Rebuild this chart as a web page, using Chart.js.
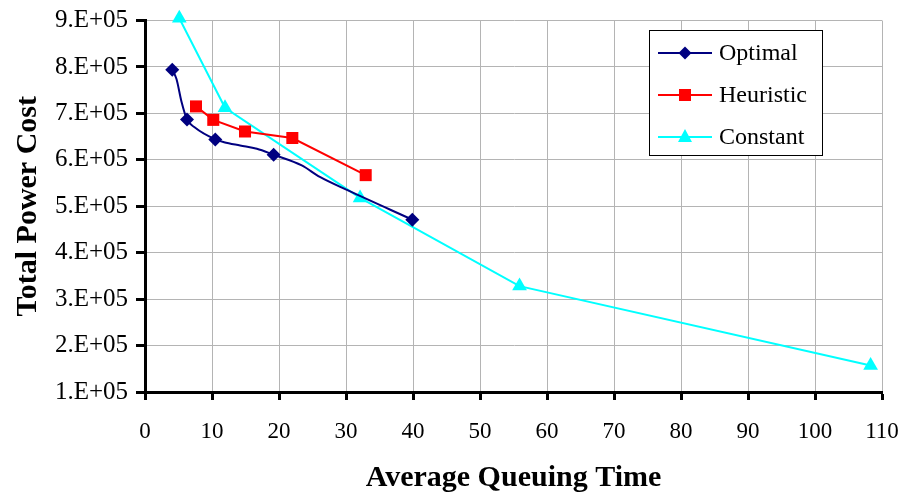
<!DOCTYPE html>
<html>
<head>
<meta charset="utf-8">
<script src="https://cdn.jsdelivr.net/npm/chart.js@4/dist/chart.umd.min.js"></script>
<style>
html,body{margin:0;padding:0;background:#fff;}
#wrap{position:relative;width:905px;height:496px;}
</style>
</head>
<body>
<div id="wrap"><canvas id="c" width="905" height="496"></canvas></div>
<script>
// ---- data ----
const optimalX = [4.07, 4.7, 5.45, 6.27, 7.4, 10.49, 11.8, 14.2, 16.7, 19.2, 23.4, 26.1, 30.3, 39.9];
const optimalY = [794000, 774000, 725000, 687000, 670000, 644000, 638000, 631000, 624000, 611000, 588000, 563000, 534000, 471000];
const optimalMarker = [1, 0, 0, 1, 0, 1, 0, 0, 0, 1, 0, 0, 0, 1];

const heuristicX = [7.61, 10.19, 14.93, 21.99, 32.94];
const heuristicY = [715000, 686000, 661000, 647000, 567000];

const constantX = [5.12, 11.94, 32.1, 55.9, 108.3];
const constantY = [905000, 712000, 518000, 328000, 157000];

const xTickLabels = ['0','10','20','30','40','50','60','70','80','90','100','110'];
const yTickLabels = ['1.E+05','2.E+05','3.E+05','4.E+05','5.E+05','6.E+05','7.E+05','8.E+05','9.E+05'];

const seriesNames = ['Optimal', 'Heuristic', 'Constant'];

function pts(xs, ys){ return xs.map((x,i)=>({x:x, y:ys[i]})); }

const SERIF = '"Liberation Serif", "DejaVu Serif", serif';

const legendPlugin = {
  id: 'boxLegend',
  afterDraw(chart){
    const ctx = chart.ctx;
    const bx = 649, by = 30, bw = 173, bh = 125;
    ctx.save();
    ctx.fillStyle = '#fff';
    ctx.fillRect(bx, by, bw, bh);
    ctx.strokeStyle = '#000';
    ctx.lineWidth = 1;
    ctx.strokeRect(bx + 0.5, by + 0.5, bw, bh);
    chart.data.datasets.forEach((ds, i) => {
      const y = by + 23 + i * 42;
      ctx.strokeStyle = ds.borderColor;
      ctx.lineWidth = 2;
      ctx.beginPath(); ctx.moveTo(658, y); ctx.lineTo(712, y); ctx.stroke();
      ctx.fillStyle = ds.backgroundColor;
      const cx = 685;
      ctx.beginPath();
      if (ds.pointStyle === 'rectRot') {
        ctx.moveTo(cx - 6.5, y); ctx.lineTo(cx, y - 6.5); ctx.lineTo(cx + 6.5, y); ctx.lineTo(cx, y + 6.5);
      } else if (ds.pointStyle === 'rect') {
        ctx.rect(cx - 6, y - 6, 12, 12);
      } else {
        ctx.moveTo(cx, y - 8); ctx.lineTo(cx + 7, y + 5); ctx.lineTo(cx - 7, y + 5);
      }
      ctx.closePath(); ctx.fill();
      ctx.fillStyle = '#000';
      ctx.font = '24px ' + SERIF;
      ctx.textBaseline = 'middle';
      ctx.textAlign = 'left';
      ctx.fillText(ds.label, 719, y + 1);
    });
    ctx.restore();
  }
};

new Chart(document.getElementById('c'), {
  type: 'line',
  data: {
    datasets: [
      {
        label: seriesNames[0],
        data: pts(optimalX, optimalY),
        borderColor: '#000080', backgroundColor: '#000080',
        borderWidth: 2, pointStyle: 'rectRot',
        pointRadius: optimalMarker.map(m => m ? 7 : 0),
        pointBorderWidth: 0, clip: false,
        cubicInterpolationMode: 'monotone'
      },
      {
        label: seriesNames[1],
        data: pts(heuristicX, heuristicY),
        borderColor: '#FF0000', backgroundColor: '#FF0000',
        borderWidth: 2, pointStyle: 'rect', pointRadius: 8.5, pointBorderWidth: 0,
        tension: 0, clip: false
      },
      {
        label: seriesNames[2],
        data: pts(constantX, constantY),
        borderColor: '#00FFFF', backgroundColor: '#00FFFF',
        borderWidth: 2, pointStyle: 'triangle', pointRadius: 8.5, pointBorderWidth: 0,
        tension: 0, clip: false
      }
    ]
  },
  options: {
    responsive: false,
    animation: false,
    layout: { padding: { top: 20.5, right: 23, left: 0, bottom: 0 } },
    plugins: { legend: { display: false }, tooltip: { enabled: false } },
    scales: {
      x: {
        type: 'linear', min: 0, max: 110,
        ticks: {
          stepSize: 10, color: '#000', padding: 18,
          font: { family: SERIF, size: 23 },
          maxRotation: 0,
          callback: (v) => xTickLabels[Math.round(v / 10)]
        },
        grid: { color: '#b4b4b4', lineWidth: 1, tickColor: '#000', tickLength: 8, tickWidth: 3 },
        border: { color: '#000', width: 3 },
        title: {
          display: true, text: 'Average Queuing Time', color: '#000',
          font: { family: SERIF, size: 30, weight: 'bold' },
          padding: { top: 0, bottom: 0 }
        },
        afterFit: (s) => { s.height = 104; s.paddingLeft = 0; s.paddingRight = 0; }
      },
      y: {
        type: 'linear', min: 100000, max: 900000,
        ticks: {
          stepSize: 100000, color: '#000', padding: 8,
          font: { family: SERIF, size: 25 },
          callback: (v) => yTickLabels[Math.round(v / 100000) - 1]
        },
        grid: { color: '#b4b4b4', lineWidth: 1, tickColor: '#000', tickLength: 9, tickWidth: 3 },
        border: { color: '#000', width: 3 },
        title: {
          display: true, text: 'Total Power Cost', color: '#000',
          font: { family: SERIF, size: 30, weight: 'bold' },
          padding: { top: 10, bottom: 0 }
        },
        afterFit: (s) => { s.width = 145; s.paddingTop = 0; s.paddingBottom = 0; }
      }
    }
  },
  plugins: [legendPlugin]
});
</script>
</body>
</html>
